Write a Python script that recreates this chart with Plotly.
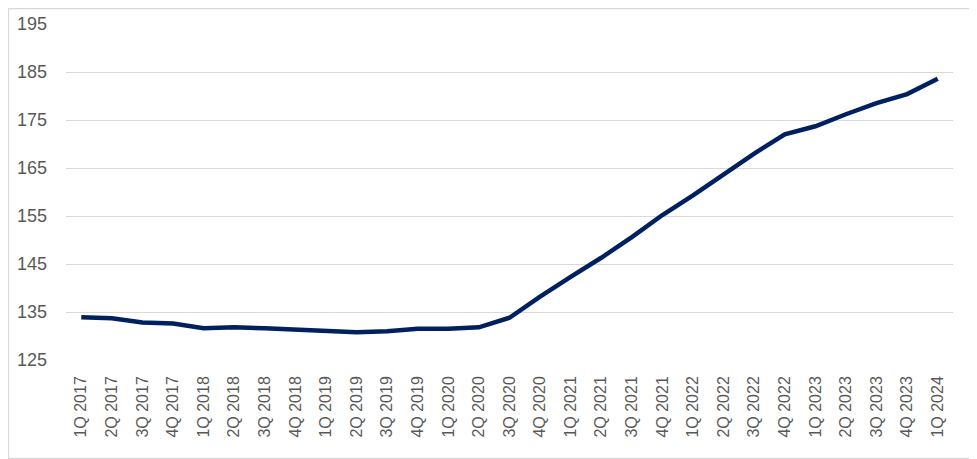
import plotly.graph_objects as go

quarters = [
    "1Q 2017", "2Q 2017", "3Q 2017", "4Q 2017",
    "1Q 2018", "2Q 2018", "3Q 2018", "4Q 2018",
    "1Q 2019", "2Q 2019", "3Q 2019", "4Q 2019",
    "1Q 2020", "2Q 2020", "3Q 2020", "4Q 2020",
    "1Q 2021", "2Q 2021", "3Q 2021", "4Q 2021",
    "1Q 2022", "2Q 2022", "3Q 2022", "4Q 2022",
    "1Q 2023", "2Q 2023", "3Q 2023", "4Q 2023",
    "1Q 2024",
]
index_values = [
    133.9, 133.7, 132.8, 132.6,
    131.6, 131.8, 131.6, 131.4,
    131.0, 130.8, 131.0, 131.5,
    131.5, 131.8, 133.8, 138.2,
    142.3, 146.3, 150.6, 155.2,
    159.3, 163.6, 168.0, 172.0,
    173.7, 176.2, 178.5, 180.4,
    183.6,
]
y_ticks = [125, 135, 145, 155, 165, 175, 185, 195]

GREY = "#595959"
GRID = "#D9D9D9"

fig = go.Figure()
fig.add_trace(
    go.Scatter(
        x=quarters,
        y=index_values,
        mode="lines",
        line=dict(color="#002060", width=4.5),
        showlegend=False,
        hoverinfo="x+y",
    )
)

# page body adds an 8px offset, so the figure is shrunk by that much
fig.update_layout(
    width=969,
    height=451,
    margin=dict(l=58, r=24, t=16, b=99),
    paper_bgcolor="white",
    plot_bgcolor="white",
    font=dict(family="Liberation Sans, Arial, sans-serif", size=17, color=GREY),
    xaxis=dict(
        type="category",
        range=[-0.5, len(quarters) - 0.5],
        tickangle=-90,
        showgrid=False,
        showline=False,
        zeroline=False,
        ticks="",
        ticklabelstandoff=12,
        tickfont=dict(size=16, color=GREY),
        automargin=False,
    ),
    yaxis=dict(
        range=[125, 195],
        tickvals=y_ticks,
        showgrid=True,
        gridcolor=GRID,
        gridwidth=1.3,
        zeroline=False,
        showline=False,
        ticks="",
        ticklabelstandoff=18,
        tickfont=dict(size=18, color=GREY),
        automargin=False,
    ),
    shapes=[
        # light outer frame around the whole chart
        dict(
            type="rect",
            xref="paper", yref="paper",
            x0=-57.5 / 887, x1=910.5 / 887,
            y0=-98.5 / 336, y1=351.5 / 336,
            line=dict(color=GRID, width=1.3),
            layer="below",
        )
    ],
)

fig.write_html("out.html")
